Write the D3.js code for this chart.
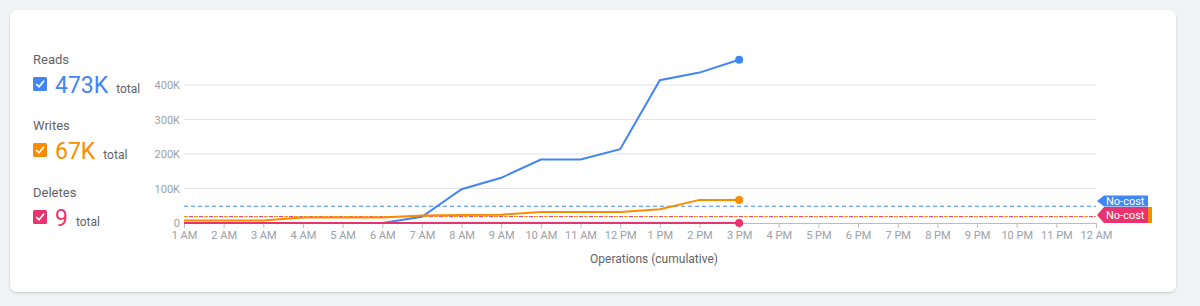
<!DOCTYPE html>
<html lang="en">
<head>
<meta charset="UTF-8">
<title>Operations (cumulative)</title>
<script src="https://d3js.org/d3.v7.min.js"></script>
<style>
    body {
        margin: 0;
        background: #f1f3f4;
        font-family: Roboto, Arial, sans-serif;
    }
    svg { display: block; }
    .tick text { fill: #9aa0a6; font-size: 11px; font-family: Roboto, Arial, sans-serif; }
</style>
</head>
<body>
<svg width="1200" height="306"></svg>
<script>
    // hour labels on the x axis
    const hours = ["1 AM", "2 AM", "3 AM", "4 AM", "5 AM", "6 AM", "7 AM", "8 AM", "9 AM", "10 AM", "11 AM", "12 PM",
        "1 PM", "2 PM", "3 PM", "4 PM", "5 PM", "6 PM", "7 PM", "8 PM", "9 PM", "10 PM", "11 PM", "12 AM"];

    // cumulative values, one per hour up to 3 PM
    const reads  = [0, 0, 0, 0, 0, 0, 18000, 98000, 131000, 184000, 184000, 214000, 414000, 436000, 473000];
    const writes = [7000, 7000, 7000, 16000, 16000, 16000, 22000, 23000, 24000, 32000, 32000, 32000, 40000, 67000, 67000];
    const deletes = [0, 0, 0, 0, 0, 0, 0, 0, 0, 0, 0, 0, 0, 0, 9];

    const yTicks = [0, 100000, 200000, 300000, 400000];

    // free quota lines
    const readsLimit = 50000;
    const writesLimit = 20000;
    const deletesLimit = 20000;

    const series = [
        { name: "Reads", total: "473K", color: "#4285f4", values: reads },
        { name: "Writes", total: "67K", color: "#fb8c00", values: writes },
        { name: "Deletes", total: "9", color: "#e8336f", values: deletes }
    ];

    const svg = d3.select("svg");

    // card
    const defs = svg.append("defs");
    const f = defs.append("filter").attr("id", "sh").attr("x", "-5%").attr("y", "-5%").attr("width", "110%").attr("height", "115%");
    f.append("feDropShadow").attr("dx", 0).attr("dy", 1).attr("stdDeviation", 1.2).attr("flood-color", "#3c4043").attr("flood-opacity", 0.25);
    svg.append("rect").attr("x", 10).attr("y", 10).attr("width", 1166).attr("height", 282)
        .attr("rx", 7).attr("fill", "#fff").attr("filter", "url(#sh)");

    const x = d3.scalePoint().domain(hours).range([184, 1096]);
    const y = d3.scaleLinear().domain([0, 400000]).range([223, 85]);

    // grid lines
    svg.append("g").selectAll("line")
        .data(yTicks.slice(1))
        .join("line")
        .attr("x1", 184).attr("x2", 1096)
        .attr("y1", d => y(d)).attr("y2", d => y(d))
        .attr("stroke", "#e4e4e4").attr("stroke-width", 1);

    // y axis labels
    const yAxis = svg.append("g").attr("transform", "translate(184,0)")
        .call(d3.axisLeft(y).tickValues(yTicks).tickSize(0).tickPadding(4)
            .tickFormat(d => d === 0 ? "0" : d3.format("~s")(d).replace("k", "K")));
    yAxis.select(".domain").remove();

    // x axis
    const xAxis = svg.append("g").attr("transform", "translate(0,223)")
        .call(d3.axisBottom(x).tickSize(5).tickPadding(3).tickSizeOuter(0));
    xAxis.select(".domain").attr("stroke", "#bdbdbd");
    xAxis.selectAll(".tick line").attr("stroke", "#bdbdbd");

    svg.append("text").attr("x", 654).attr("y", 263).attr("text-anchor", "middle")
        .attr("fill", "#5f6368").attr("font-size", 12).text("Operations (cumulative)");

    // quota lines
    const dash = (val, color, pattern, offset) => svg.append("line")
        .attr("x1", 184).attr("x2", 1096)
        .attr("y1", y(val) + 0.5).attr("y2", y(val) + 0.5)
        .attr("stroke", color).attr("stroke-width", 1)
        .attr("stroke-dasharray", pattern).attr("stroke-dashoffset", offset);
    dash(readsLimit, "#4285f4", "4,3", 0);
    dash(writesLimit, "#fb8c00", "4,6", 0);
    dash(deletesLimit, "#e8336f", "4,6", 5);

    // lines, deletes drawn last on top
    const line = d3.line().x((d, i) => x(hours[i])).y(d => y(d));
    series.forEach(s => {
        svg.append("path").datum(s.values)
            .attr("d", line).attr("fill", "none")
            .attr("stroke", s.color).attr("stroke-width", 2);
        svg.append("circle")
            .attr("cx", x(hours[s.values.length - 1]))
            .attr("cy", y(s.values[s.values.length - 1]))
            .attr("r", 4).attr("fill", s.color);
    });

    // no-cost flags at the right end
    const flag = (cy, color, w, h) => {
        const x0 = 1097;
        svg.append("path")
            .attr("d", `M${x0},${cy} L${x0 + 7},${cy - h / 2} L${x0 + w},${cy - h / 2} L${x0 + w},${cy + h / 2} L${x0 + 7},${cy + h / 2} Z`)
            .attr("fill", color);
        svg.append("text").attr("x", x0 + 9).attr("y", cy + 4)
            .attr("fill", "#fff").attr("font-size", 11).text("No-cost");
    };
    flag(201, "#4285f4", 51, 11);
    svg.append("rect").attr("x", 1148).attr("y", 207).attr("width", 4).attr("height", 16).attr("fill", "#fb8c00");
    flag(215, "#e8336f", 51, 16);

    // legend on the left
    const legend = svg.append("g");
    const rowY = [59, 125, 192];
    series.forEach((s, i) => {
        const g = legend.append("g").attr("transform", `translate(33,${rowY[i]})`);
        g.append("text").attr("y", 5).attr("fill", "#5f6368").attr("font-size", 13).text(s.name);
        g.append("rect").attr("x", 0).attr("y", 18).attr("width", 14).attr("height", 14).attr("rx", 1.5).attr("fill", s.color);
        g.append("path").attr("d", "M3.2,25 L6,27.8 L11,21.8").attr("fill", "none")
            .attr("stroke", "#fff").attr("stroke-width", 1.7);
        const big = g.append("text").attr("x", 22).attr("y", 34).attr("fill", s.color)
            .attr("font-size", 23).text(s.total);
        const bw = big.node().getComputedTextLength();
        g.append("text").attr("x", 22 + bw + 8).attr("y", 34).attr("fill", "#5f6368")
            .attr("font-size", 12).text("total");
    });
</script>
</body>
</html>
